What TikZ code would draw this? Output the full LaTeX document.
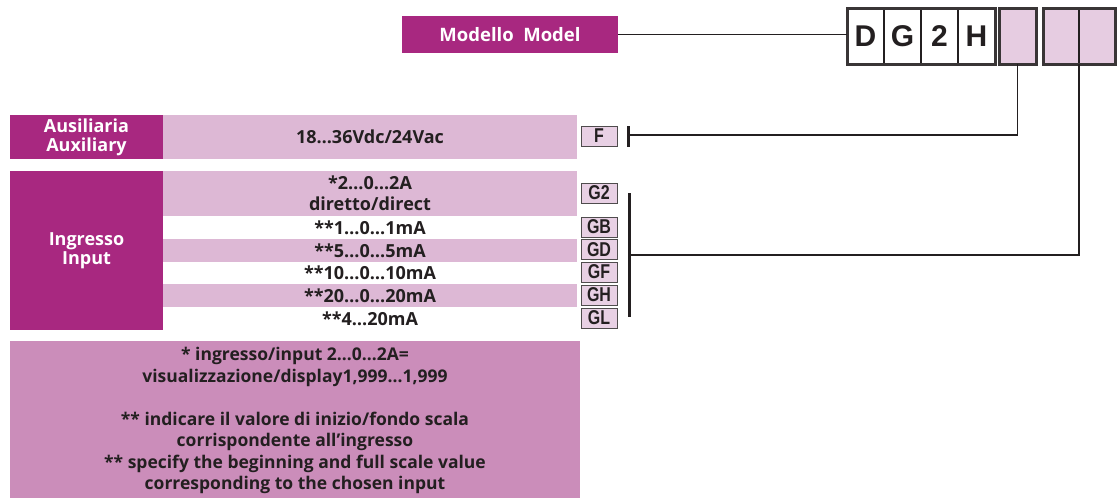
\documentclass[tikz,border=0pt]{standalone}
\usepackage{fontspec}
\setmainfont{Liberation Sans}
\newfontfamily\notefont{Open Sans}
\newfontfamily\condfont[FakeStretch=0.8]{Liberation Sans}
\definecolor{mag}{RGB}{168,40,128}
\definecolor{rowpink}{RGB}{221,184,213}
\definecolor{codepink}{RGB}{232,208,228}
\definecolor{notepink}{RGB}{203,141,186}
\definecolor{cellpink}{RGB}{230,204,225}
\definecolor{ink}{RGB}{35,31,32}
\begin{document}
\begin{tikzpicture}[x=1pt,y=-1pt,
  blk/.style={anchor=north west, inner sep=0pt, outer sep=0pt, align=center},
  head/.style={blk, fill=mag, text=white, font=\fontsize{18}{19}\selectfont\notefont\bfseries},
  row/.style={blk, minimum width=414pt, text=ink, font=\fontsize{18}{21}\selectfont\notefont\bfseries},
  code/.style={blk, draw=ink!80, line width=1pt, fill=codepink, minimum width=36pt, minimum height=20pt, text=ink, font=\fontsize{20}{20}\selectfont\condfont\bfseries},
  cell/.style={blk, minimum width=37pt, minimum height=56pt, fill=white, text=ink, font=\fontsize{30}{32}\selectfont\bfseries},
  frame/.style={draw=ink!90, line width=3pt},
  wire/.style={draw=ink, line width=1.2pt},
  bar/.style={draw=ink, line width=3pt}]
\useasboundingbox (0,0) rectangle (1120,499);
% model label
\node[head, minimum width=216pt, minimum height=37pt, font=\fontsize{18.5}{20}\selectfont\notefont\bfseries] (model) at (402,16) {Modello\ \ Model};
% code cells
\node[cell] (cD) at (847,8) {D};
\node[cell] (cG) at (884,8) {G};
\node[cell] (c2) at (921,8) {2};
\node[cell] (cH) at (958,8) {H};
\draw[wire] (cD.north east) -- (cD.south east) (cG.north east) -- (cG.south east) (c2.north east) -- (c2.south east);
\draw[frame] (cD.north west) rectangle (cH.south east);
\node[cell, fill=cellpink] (cA) at (999,8) {};
\draw[frame] (cA.north west) rectangle (cA.south east);
\node[cell, minimum width=36pt, fill=cellpink] (cB) at (1043,8) {};
\node[cell, minimum width=36pt, fill=cellpink] (cC) at (1079,8) {};
\draw[wire] (cB.north east) -- (cB.south east);
\draw[frame] (cB.north west) rectangle (cC.south east);
\draw[wire] (model.east) -- (model.east -| cD.west);
% auxiliary
\node[head, minimum width=153pt, minimum height=44pt] (aux) at (10,115) {Ausiliaria\\[0pt]Auxiliary};
\node[row, fill=rowpink, minimum height=44pt] (auxrow) at (163,115) {18…36Vdc/24Vac};
\node[code] (F) at (581,126) {F};
% input
\node[head, minimum width=153pt, minimum height=159pt] (inp) at (10,171) {Ingresso\\[0pt]Input};
\node[row, fill=rowpink, minimum height=45pt] (r1) at (163,171) {*2…0…2A\\diretto/direct};
\node[row, fill=white, minimum height=23pt] (r2) at (163,216) {**1…0…1mA};
\node[row, fill=rowpink, minimum height=23pt] (r3) at (163,239) {**5…0…5mA};
\node[row, fill=white, minimum height=22pt] (r4) at (163,262) {**10…0…10mA};
\node[row, fill=rowpink, minimum height=23pt] (r5) at (163,284) {**20…0…20mA};
\node[row, fill=white, minimum height=23pt] (r6) at (163,307) {**4…20mA};
\node[code] (G2) at (581,183) {G2};
\node[code] (GB) at (581,217) {GB};
\node[code] (GD) at (581,239.5) {GD};
\node[code] (GF) at (581,262) {GF};
\node[code] (GH) at (581,285) {GH};
\node[code] (GL) at (581,308) {GL};
% bars and wires
\coordinate (fbt) at (628,126);
\coordinate (fbb) at (628,147);
\coordinate (fj) at (628,135);
\draw[bar] (fbt) -- (fbb);
\coordinate (gbt) at (629,193);
\coordinate (gbb) at (629,317);
\coordinate (gj) at (629,255);
\draw[bar] (gbt) -- (gbb);
\draw[wire] (cA.south) |- (fj);
\draw[wire] (cB.south east) |- (gj);
% notes
\node[blk, fill=notepink, minimum width=570pt, minimum height=157pt] (notes) at (10,341) {};
\node[align=center, text=ink, font=\fontsize{17.5}{21.5}\selectfont\notefont\bfseries] (ntxt) at ([yshift=-1pt]notes.center) {* ingresso/input 2…0…2A=\\visualizzazione/display1,999…1,999\\[21.5pt]** indicare il valore di inizio/fondo scala\\corrispondente all’ingresso\\** specify the beginning and full scale value\\corresponding to the chosen input};
\end{tikzpicture}
\end{document}
